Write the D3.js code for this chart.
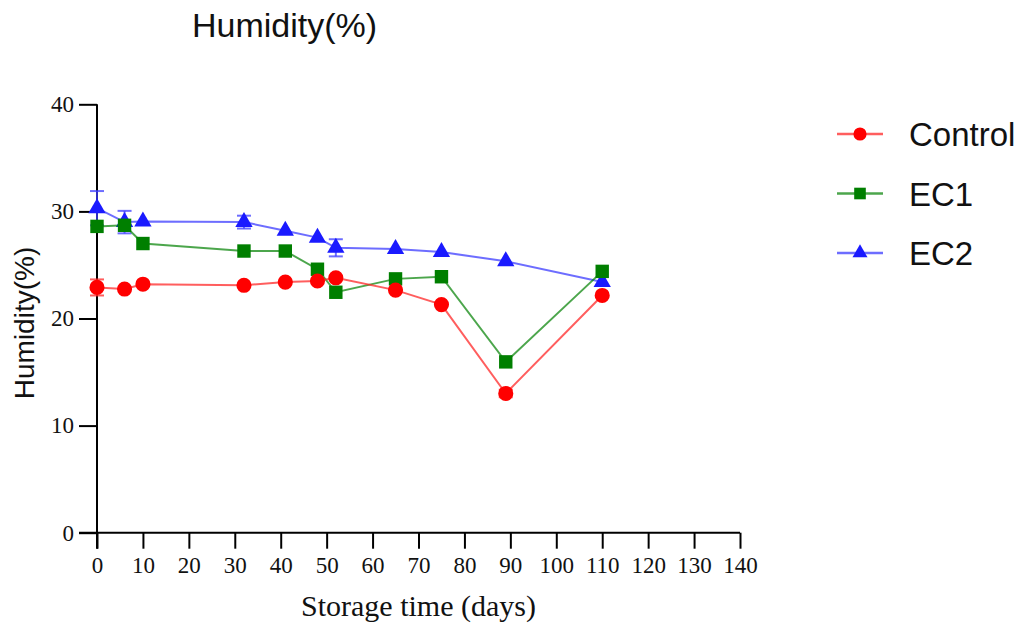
<!DOCTYPE html>
<html>
<head>
<meta charset="utf-8">
<script src="https://cdn.jsdelivr.net/npm/d3@7"></script>
<style>
  html, body { margin: 0; padding: 0; background: #fff; }
  svg { display: block; }
</style>
</head>
<body>
<svg id="chart" width="1024" height="628"></svg>
<script>
// Sampling days and humidity readings (%) for each treatment
const days = [0, 6, 10, 32, 41, 48, 52, 65, 75, 89, 110];
const controlValues = [22.9, 22.75, 23.2, 23.1, 23.4, 23.5, 23.8, 22.65, 21.3, 13.0, 22.15];
const ec1Values     = [28.6, 28.7, 27.0, 26.3, 26.3, 24.6, 22.45, 23.7, 23.9, 15.95, 24.4];
const ec2Values     = [30.3, 29.0, 29.05, 29.0, 28.2, 27.55, 26.6, 26.5, 26.2, 25.35, 23.4];
// Standard deviations (0 = no bar drawn)
const controlErrors = [0.75, 0, 0, 0, 0, 0, 0, 0, 0, 0.35, 0];
const ec1Errors     = [0, 0, 0, 0, 0, 0, 0, 0, 0, 0, 0];
const ec2Errors     = [1.6, 1.05, 0, 0.6, 0, 0, 0.8, 0, 0, 0, 0];
const seriesNames = ["Control", "EC1", "EC2"];
const xTicks = [0, 10, 20, 30, 40, 50, 60, 70, 80, 90, 100, 110, 120, 130, 140];
const yTicks = [0, 10, 20, 30, 40];

const svg = d3.select("#chart");

const x = d3.scaleLinear().domain([0, 140]).range([97, 740]);
const y = d3.scaleLinear().domain([0, 40]).range([532.7, 104.3]);

const series = [
  { name: seriesNames[0], values: controlValues, errors: controlErrors, marker: d3.symbolCircle, size: 180, fill: "#ff0000", line: "rgba(255,40,40,0.75)" },
  { name: seriesNames[1], values: ec1Values, errors: ec1Errors, marker: d3.symbolSquare, size: 180, fill: "#007f00", line: "rgba(0,128,0,0.7)" },
  { name: seriesNames[2], values: ec2Values, errors: ec2Errors, marker: d3.symbolTriangle, size: 130, fill: "#1a1aff", line: "rgba(60,60,255,0.75)" }
];

// Axes
const serif = "'Liberation Serif', 'Times New Roman', serif";
const sans = "'Liberation Sans', Arial, sans-serif";

const xAxis = svg.append("g")
  .attr("transform", `translate(0,${y(0)})`)
  .call(d3.axisBottom(x).tickValues(xTicks).tickSize(16).tickPadding(8).tickSizeOuter(0));
const yAxis = svg.append("g")
  .attr("transform", `translate(${x(0)},0)`)
  .call(d3.axisLeft(y).tickValues(yTicks).tickSize(18).tickPadding(5).tickSizeOuter(0));

[xAxis, yAxis].forEach(g => {
  g.select(".domain").attr("stroke", "#000").attr("stroke-width", 2);
  g.selectAll(".tick line").attr("stroke", "#000").attr("stroke-width", 2);
  g.selectAll(".tick text")
    .attr("fill", "#111")
    .style("font-family", serif)
    .style("font-size", "23px");
});
// x axis line runs left to meet the y tick at 0; y axis line runs down to the x tick at 0
xAxis.select(".domain").attr("d", `M${x(0) - 18},0H${x(140)}`);
yAxis.select(".domain").attr("d", `M0,${y(40)}V${y(0) + 16}`);

// Axis titles
svg.append("text")
  .attr("x", (x(0) + x(140)) / 2)
  .attr("y", 616)
  .attr("text-anchor", "middle")
  .style("font-family", serif)
  .style("font-size", "30px")
  .attr("fill", "#111")
  .text("Storage time (days)");

svg.append("text")
  .attr("transform", `translate(34,323) rotate(-90)`)
  .attr("text-anchor", "middle")
  .style("font-family", sans)
  .style("font-size", "28px")
  .attr("fill", "#111")
  .text("Humidity(%)");

// Chart title
svg.append("text")
  .attr("x", 192)
  .attr("y", 37)
  .style("font-family", sans)
  .style("font-size", "34px")
  .attr("fill", "#111")
  .text("Humidity(%)");

// Series: drawn EC2 first so EC1 and Control sit on top
const line = d3.line().x(d => x(d.day)).y(d => y(d.value));
const drawOrder = [series[2], series[1], series[0]];

drawOrder.forEach(s => {
  const pts = days.map((d, i) => ({ day: d, value: s.values[i], err: s.errors[i] }));
  const g = svg.append("g");
  g.append("path")
    .datum(pts)
    .attr("fill", "none")
    .attr("stroke", s.line)
    .attr("stroke-width", 2)
    .attr("d", line);

  const eb = g.selectAll(".err").data(pts.filter(p => p.err > 0)).enter().append("g");
  eb.append("line")
    .attr("x1", p => x(p.day)).attr("x2", p => x(p.day))
    .attr("y1", p => y(p.value + p.err)).attr("y2", p => y(p.value - p.err))
    .attr("stroke", s.line).attr("stroke-width", 2);
  [1, -1].forEach(sign => {
    eb.append("line")
      .attr("x1", p => x(p.day) - 7).attr("x2", p => x(p.day) + 7)
      .attr("y1", p => y(p.value + sign * p.err)).attr("y2", p => y(p.value + sign * p.err))
      .attr("stroke", s.line).attr("stroke-width", 2);
  });

  g.selectAll(".pt").data(pts).enter().append("path")
    .attr("transform", p => `translate(${x(p.day)},${y(p.value)})`)
    .attr("d", d3.symbol().type(s.marker).size(s.size))
    .attr("fill", s.fill);
});

// Legend
const legend = svg.append("g");
series.forEach((s, i) => {
  const cy = 134 + i * 59.5;
  legend.append("line")
    .attr("x1", 837).attr("x2", 883).attr("y1", cy).attr("y2", cy)
    .attr("stroke", s.line).attr("stroke-width", 2.5);
  legend.append("path")
    .attr("transform", `translate(860,${cy})`)
    .attr("d", d3.symbol().type(s.marker).size(s.size * 0.75))
    .attr("fill", s.fill);
  legend.append("text")
    .attr("x", 909).attr("y", cy + 12)
    .style("font-family", sans)
    .style("font-size", "33px")
    .attr("fill", "#111")
    .text(s.name);
});
</script>
</body>
</html>
